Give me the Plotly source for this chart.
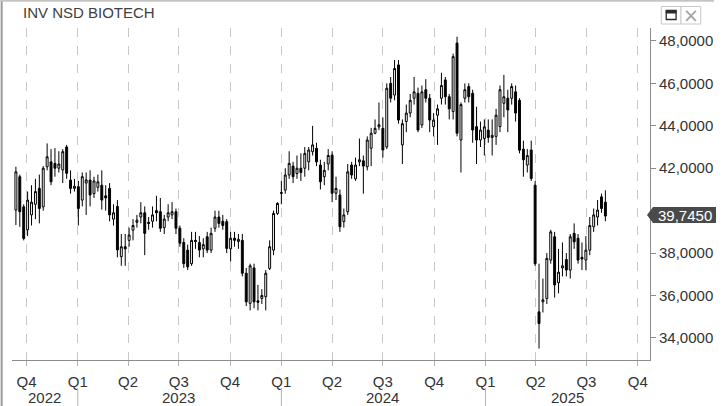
import plotly.graph_objects as go
import pandas as pd

TITLE = "INV NSD BIOTECH"
START_WEEK = "2022-09-12"

open_ = [40.03, 41.6, 40.18, 39.1, 39.8, 40.3, 41.05, 40.18, 42.07, 42.3, 42.23, 42.0, 41.92, 43.0, 41.44, 41.05,
         41.13, 40.5, 41.3, 41.44, 40.8, 41.1, 41.2, 40.7, 41.05, 39.6, 40.2, 37.83, 38.3,
         38.6, 39.08, 39.45, 39.7, 39.9, 39.45, 39.5, 40.0, 39.95, 39.2, 39.7, 39.8, 39.95,
         39.17, 38.5, 38.14, 37.5, 38.6, 38.5, 38.2, 38.77, 38.14, 39.17, 39.7, 39.5, 39.48,
         38.2, 38.7, 38.55, 38.6, 37.05, 35.63, 37.3, 35.75, 35.86, 35.94, 37.28, 38.14, 39.87,
         40.85, 40.97, 41.68, 42.1, 41.75, 42.0, 42.0, 42.3, 42.78, 42.94, 42.15, 41.6, 42.2,
         42.62, 40.82, 40.74, 39.48, 39.95, 42.15, 41.5, 42.3, 42.35, 42.07, 42.94, 43.65, 43.95,
         43.88, 43.0, 46.0, 45.45, 46.87, 43.1, 44.2, 44.6, 45.3, 45.53, 44.04, 45.7, 45.3,
         43.96, 44.5, 45.3, 46.16, 45.37, 44.67, 47.9, 43.33, 45.3, 45.85, 45.53, 43.96, 43.33,
         43.4, 43.8, 43.45, 43.5, 43.96, 45.06, 45.3, 45.3, 45.6, 45.2, 42.9, 42.15, 42.86,
         41.2, 35.23, 35.7, 35.86, 37.67, 38.77, 36.6, 37.3, 37.7, 37.2, 38.93, 38.7, 37.8,
         37.67, 38.14, 39.24, 39.7, 40.65, 40.4]
high = [42.07, 41.7, 40.3, 40.9, 41.2, 41.5, 41.7, 42.1, 43.17, 42.9, 42.95, 42.8, 42.9, 43.1, 41.9, 41.5,
        41.4, 41.8, 41.8, 41.9, 41.6, 41.7, 41.9, 41.2, 41.3, 40.3, 40.5, 38.9, 38.9,
        39.2, 39.6, 39.8, 40.4, 40.2, 39.7, 40.2, 40.7, 40.6, 39.8, 40.3, 40.4, 40.1,
        39.3, 38.7, 38.4, 39.0, 39.0, 38.8, 38.7, 39.0, 39.2, 40.0, 40.0, 39.8, 39.6,
        39.0, 39.0, 38.9, 38.9, 37.3, 37.5, 37.5, 36.5, 36.3, 37.2, 38.6, 40.0, 40.4,
        41.4, 42.0, 42.8, 42.3, 42.6, 42.7, 43.0, 43.0, 44.0, 43.2, 42.4, 42.3, 42.9,
        42.8, 41.6, 41.0, 40.1, 42.2, 42.3, 42.5, 43.4, 42.6, 43.5, 43.9, 44.3, 45.1,
        44.4, 46.0, 46.3, 47.1, 47.1, 44.3, 45.0, 45.5, 46.3, 45.8, 45.9, 46.2, 45.5,
        44.6, 45.0, 46.5, 46.3, 45.5, 47.4, 48.2, 45.1, 46.0, 46.0, 45.7, 44.9, 44.2,
        44.3, 44.3, 44.3, 44.8, 45.9, 46.4, 45.7, 46.0, 45.9, 45.3, 43.3, 42.9, 43.3,
        41.4, 37.5, 36.8, 38.0, 39.1, 39.0, 38.2, 38.5, 38.0, 38.9, 39.4, 38.9, 38.5,
        38.8, 39.7, 40.1, 40.5, 40.8, 40.96]
low = [39.32, 39.24, 38.6, 38.8, 39.3, 39.6, 39.4, 40.0, 41.9, 41.2, 41.6, 41.8, 41.3, 41.5, 40.8, 40.9,
       39.3, 40.2, 39.8, 40.2, 40.6, 40.9, 40.05, 40.0, 39.5, 39.3, 37.8, 37.4, 37.4,
       38.3, 38.6, 39.2, 39.4, 37.9, 39.1, 39.2, 39.5, 39.0, 38.9, 39.5, 39.6, 38.9,
       38.3, 37.3, 37.2, 37.4, 38.2, 37.8, 37.8, 38.0, 38.0, 39.0, 39.2, 39.1, 38.0,
       37.6, 38.3, 38.2, 36.9, 35.5, 35.3, 35.4, 35.3, 35.6, 35.3, 37.2, 37.9, 39.8,
       40.3, 40.8, 41.5, 41.3, 41.5, 41.4, 41.6, 41.9, 42.6, 42.1, 41.0, 41.2, 41.9,
       40.4, 40.5, 39.0, 39.2, 39.8, 41.5, 41.4, 42.1, 40.8, 41.9, 42.1, 43.6, 43.8,
       42.5, 42.9, 45.1, 45.2, 44.1, 42.2, 43.7, 44.4, 45.0, 43.7, 43.9, 45.1, 43.7,
       43.5, 43.1, 45.0, 45.0, 44.3, 44.3, 43.5, 41.8, 45.1, 45.1, 43.2, 42.2, 43.0,
       42.6, 43.2, 42.6, 43.1, 43.7, 44.4, 43.7, 45.0, 44.2, 42.7, 41.6, 41.8, 41.4,
       37.4, 33.5, 35.2, 35.6, 37.5, 35.9, 36.1, 36.9, 36.9, 36.8, 38.2, 37.5, 37.2,
       37.2, 37.9, 39.0, 39.3, 39.9, 39.5]
close = [41.83, 39.95, 38.69, 40.5, 40.4, 40.9, 40.1, 42.0, 42.54, 41.36, 42.0, 42.2, 42.78, 41.76, 41.05, 41.15,
         40.1, 41.6, 41.45, 40.74, 41.4, 41.36, 40.5, 40.6, 39.8, 39.9, 38.15, 38.3, 38.2,
         38.85, 39.3, 39.55, 39.9, 38.93, 39.4, 39.8, 39.9, 39.17, 39.6, 39.9, 39.95, 39.17,
         38.46, 37.5, 37.35, 38.6, 38.55, 38.14, 38.4, 38.14, 38.93, 39.7, 39.4, 39.3, 38.22,
         38.7, 38.6, 38.65, 37.05, 35.7, 37.4, 35.7, 35.68, 36.0, 37.05, 38.3, 39.87, 40.34,
         40.82, 41.68, 42.23, 41.6, 42.0, 41.8, 42.7, 42.86, 43.1, 42.3, 41.36, 41.9, 42.6,
         40.82, 41.05, 39.24, 39.8, 41.83, 41.68, 42.15, 42.4, 42.1, 43.33, 43.65, 43.88, 44.05,
         42.86, 45.77, 45.3, 46.7, 44.27, 44.1, 44.6, 45.2, 45.6, 43.8, 45.6, 45.3, 44.27,
         44.27, 44.8, 45.9, 45.37, 44.8, 47.26, 43.65, 45.0, 45.7, 45.37, 43.8, 43.33, 43.8,
         43.95, 43.45, 43.55, 44.5, 45.7, 45.37, 44.75, 45.85, 44.6, 42.85, 42.4, 42.6, 41.52,
         37.5, 34.68, 35.8, 37.75, 39.0, 36.5, 37.1, 37.4, 37.2, 38.77, 38.53, 37.67, 37.72,
         38.14, 39.3, 39.8, 40.03, 40.1, 39.745]

quarter_ticks = ["2022-10-01", "2023-01-01", "2023-04-01", "2023-07-01", "2023-10-01",
                 "2024-01-01", "2024-04-01", "2024-07-01", "2024-10-01",
                 "2025-01-01", "2025-04-01", "2025-07-01", "2025-10-01"]
quarter_labels = ["Q4", "Q1", "Q2", "Q3", "Q4", "Q1", "Q2", "Q3", "Q4", "Q1", "Q2", "Q3", "Q4"]
year_labels = ["2022", "2023", "2024", "2025"]
year_label_pos = ["2022-11-03", "2023-07-01", "2024-07-01", "2025-05-28"]
year_breaks = ["2023-01-01", "2024-01-01", "2025-01-01"]
price_ticks = [34, 36, 38, 40, 42, 44, 46, 48]

dates = pd.date_range(START_WEEK, periods=len(close), freq="7D")

W, H = 725, 406
ML, MR, MT, MB = 12, 65, 28, 46
PW, PH = W - ML - MR, H - MT - MB


def px_x(x):
    return (x - ML) / PW


def px_y(y):
    return (H - MB - y) / PH


def fmt(v):
    return f"{v:.4f}".replace(".", ",")


last = close[-1]
# the tick label hidden behind the last-price marker is left blank
price_ticktext = ["" if abs(v - last) < 0.5 else fmt(v) for v in price_ticks]

fig = go.Figure(go.Candlestick(
    x=dates, open=open_, high=high, low=low, close=close,
    increasing=dict(line=dict(color="#000000", width=1), fillcolor="#ffffff"),
    decreasing=dict(line=dict(color="#000000", width=1), fillcolor="#000000"),
    whiskerwidth=0, showlegend=False,
))

font = "Arial, Liberation Sans, sans-serif"
shapes = []
annotations = []

# year separators below the axis
for d in year_breaks:
    shapes.append(dict(type="line", xref="x", yref="paper", x0=d, x1=d,
                       y0=px_y(388), y1=px_y(406), line=dict(color="#b4b4b4", width=1)))
for t, d in zip(year_labels, year_label_pos):
    annotations.append(dict(text=t, x=d, xref="x", y=px_y(397), yref="paper",
                            showarrow=False, xanchor="center", yanchor="middle",
                            font=dict(family=font, size=15, color="#333333")))

# title
annotations.append(dict(text=TITLE, x=px_x(21), xref="paper", y=px_y(12), yref="paper",
                        showarrow=False, xanchor="left", yanchor="middle",
                        font=dict(family=font, size=15, color="#404040")))

# last price marker
shapes.append(dict(type="path", xref="paper", yref="y", xsizemode="pixel", ysizemode="pixel",
                   xanchor=1, yanchor=last,
                   path="M -3,1 L 3,9 L 66,9 L 66,-7 L 3,-7 Z",
                   fillcolor="#4a4a4a", line=dict(width=0)))
annotations.append(dict(text=fmt(last), x=1, xref="paper", y=last, yref="y",
                        xanchor="left", yanchor="middle", xshift=6, yshift=1, showarrow=False,
                        font=dict(family=font, size=15, color="#ffffff")))

# window frame & buttons
shapes.append(dict(type="line", xref="paper", yref="paper", x0=px_x(1.5), x1=px_x(1.5),
                   y0=px_y(0), y1=px_y(406), line=dict(color="#9a9a9a", width=2)))
shapes.append(dict(type="line", xref="paper", yref="paper", x0=px_x(0), x1=px_x(725),
                   y0=px_y(0.8), y1=px_y(0.8), line=dict(color="#c4c4c4", width=2)))
shapes.append(dict(type="rect", xref="paper", yref="paper", x0=px_x(671.5), x1=px_x(691.5),
                   y0=px_y(24), y1=px_y(6.5), line=dict(color="#c8c8c8", width=1), fillcolor="#ffffff"))
shapes.append(dict(type="rect", xref="paper", yref="paper", x0=px_x(691.5), x1=px_x(711.5),
                   y0=px_y(24), y1=px_y(6.5), line=dict(color="#c8c8c8", width=1), fillcolor="#ffffff"))
shapes.append(dict(type="rect", xref="paper", yref="paper", x0=px_x(676.5), x1=px_x(686.5),
                   y0=px_y(19.5), y1=px_y(10.5), line=dict(color="#2a2a2a", width=1.3), fillcolor="#ffffff"))
shapes.append(dict(type="rect", xref="paper", yref="paper", x0=px_x(676.5), x1=px_x(686.5),
                   y0=px_y(13), y1=px_y(10.5), line=dict(color="#2a2a2a", width=1), fillcolor="#2a2a2a"))
annotations.append(dict(text="×", x=px_x(701.5), xref="paper", y=px_y(15), yref="paper",
                        showarrow=False, xanchor="center", yanchor="middle",
                        font=dict(family="DejaVu Sans", size=19, color="#a0a0a0")))

fig.update_layout(
    width=W, height=H, autosize=False,
    margin=dict(l=ML, r=MR, t=MT, b=MB, pad=0),
    paper_bgcolor="#ffffff", plot_bgcolor="#ffffff",
    separators=",.",
    shapes=shapes, annotations=annotations,
    xaxis=dict(
        type="date", range=["2022-09-05", "2025-10-23"],
        tickvals=quarter_ticks, ticktext=quarter_labels,
        showgrid=True, gridcolor="#c8c8c8", griddash="dash", gridwidth=1,
        ticks="outside", ticklen=5, tickcolor="#b4b4b4",
        showline=True, linecolor="#8c8c8c", linewidth=1,
        tickfont=dict(family=font, size=15, color="#333333"),
        rangeslider=dict(visible=False), zeroline=False, ticklabelstandoff=3,
    ),
    yaxis=dict(
        side="right", range=[32.96, 48.61],
        tickvals=price_ticks, ticktext=price_ticktext,
        showgrid=False, zeroline=False,
        ticks="outside", ticklen=5, tickcolor="#8c8c8c",
        showline=True, linecolor="#8c8c8c", linewidth=1,
        tickfont=dict(family=font, size=15, color="#333333"),
    ),
)

fig.write_html("out.html", config={"displayModeBar": False},
               post_script="document.body.style.margin='0';document.body.style.overflow='hidden';")
